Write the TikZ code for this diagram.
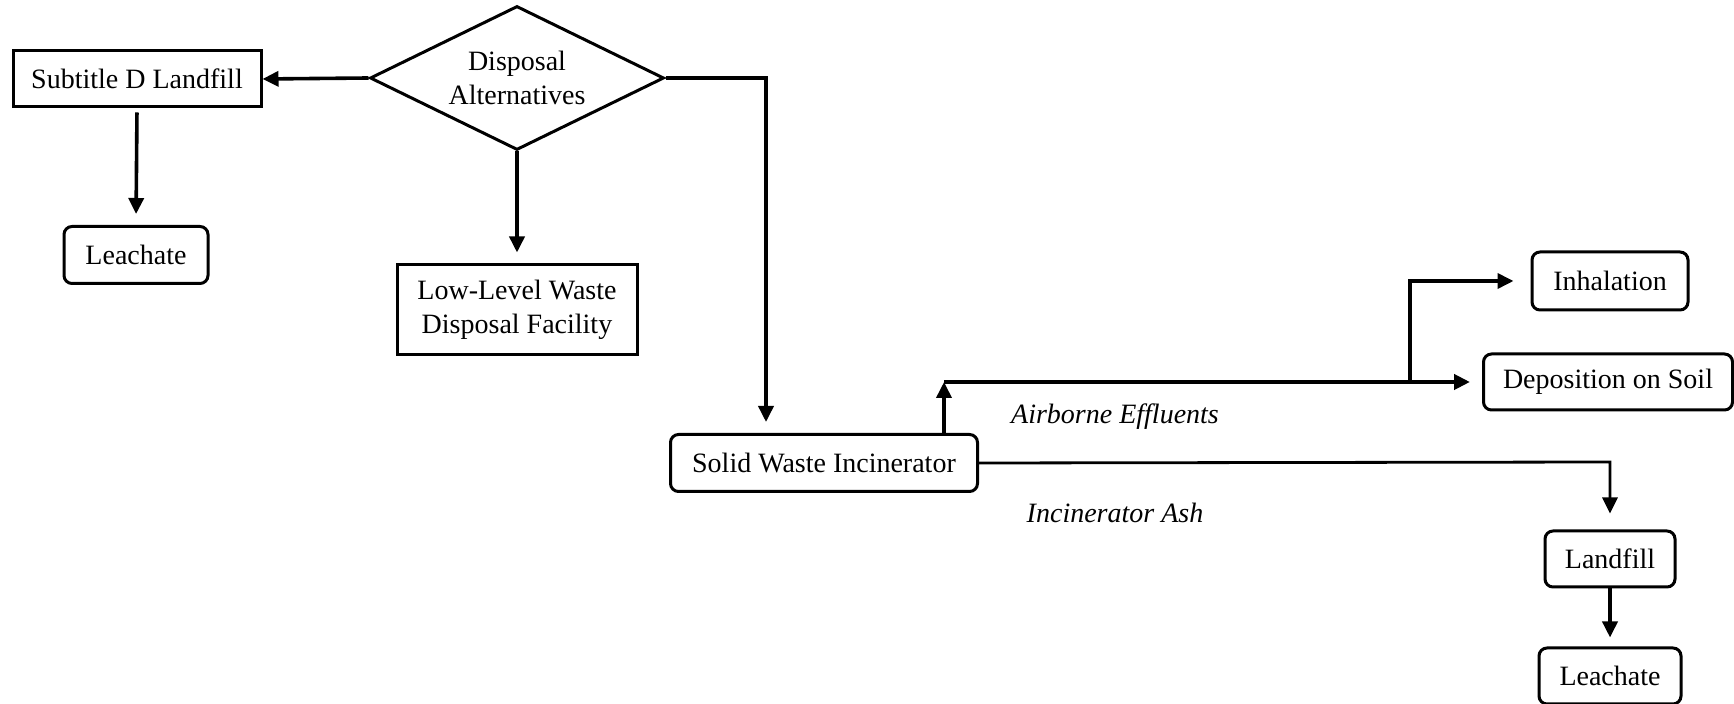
\documentclass[tikz,border=0pt]{standalone}
\usepackage{fontspec}
\setmainfont{Liberation Serif}
\usetikzlibrary{shapes.geometric,arrows.meta}

\begin{document}
\begin{tikzpicture}[x=0.5pt,y=-0.5pt,font=\fontsize{14}{17}\selectfont,
  box/.style={draw,line width=1.5pt,inner sep=2pt,align=center},
  rbox/.style={box,rounded corners=4pt},
  arr/.style={line width=1.8pt,-{Triangle[length=8pt,width=7.5pt]}},
  lbl/.style={font=\fontsize{14}{17}\selectfont\itshape}]
\useasboundingbox (0,0) rectangle (1734,704);
\node[draw,diamond,aspect=2,line width=1.5pt,minimum width=147pt,minimum height=72pt,inner sep=0pt,align=center] (dec) at (517,78) {Disposal\\Alternatives};
\node[box,minimum width=124pt,minimum height=28pt] (sub) at (137,79) {Subtitle D Landfill};
\node[rbox,minimum width=72pt,minimum height=28.5pt] (leachA) at (136,255) {Leachate};
\node[box,minimum width=120pt,minimum height=45pt] (llw) at (517,310) {Low-Level Waste\\Disposal Facility};
\node[rbox,minimum width=153.5pt,minimum height=28.5pt] (swi) at (824,463) {Solid Waste Incinerator};
\node[rbox,minimum width=78pt,minimum height=29pt] (inh) at (1610,281) {Inhalation};
\node[rbox,minimum width=124.5pt,minimum height=28pt] (dep) at (1608,382) {Deposition on Soil};
\node[rbox,minimum width=65pt,minimum height=28pt] (land) at (1610,559) {Landfill};
\node[rbox,minimum width=71pt,minimum height=28pt] (leachB) at (1610,676) {Leachate};
\node[lbl] (airlbl) at (1115,417) {Airborne Effluents};
\node[lbl] (ashlbl) at (1115,513) {Incinerator Ash};
\coordinate (turn) at (766,78);
\coordinate (air) at (944,382);
\coordinate (split) at (1410,382);
\coordinate (ash) at (1610,462);
\draw[arr] (dec.west) -- (sub.east);
\draw[arr,shorten >=5.5pt] (dec.south) -- (llw.north);
\draw[arr,shorten <=2pt,shorten >=5.5pt] (sub.south) -- (leachA.north);
\draw[arr,shorten >=5.5pt] (dec.east) -- (turn) -- (turn |- swi.north);
\draw[arr] (swi.north -| air) -- (air);
\draw[arr,line width=2.4pt,shorten >=6pt] (air) -- (dep.west);
\draw[arr,shorten >=8.5pt] (split) |- (inh.west);
\draw[arr,line width=1.4pt,shorten >=8pt] (swi.east) -- (ash) -- (land.north);
\draw[arr,shorten >=4.5pt] (land.south) -- (leachB.north);
\end{tikzpicture}
\end{document}
